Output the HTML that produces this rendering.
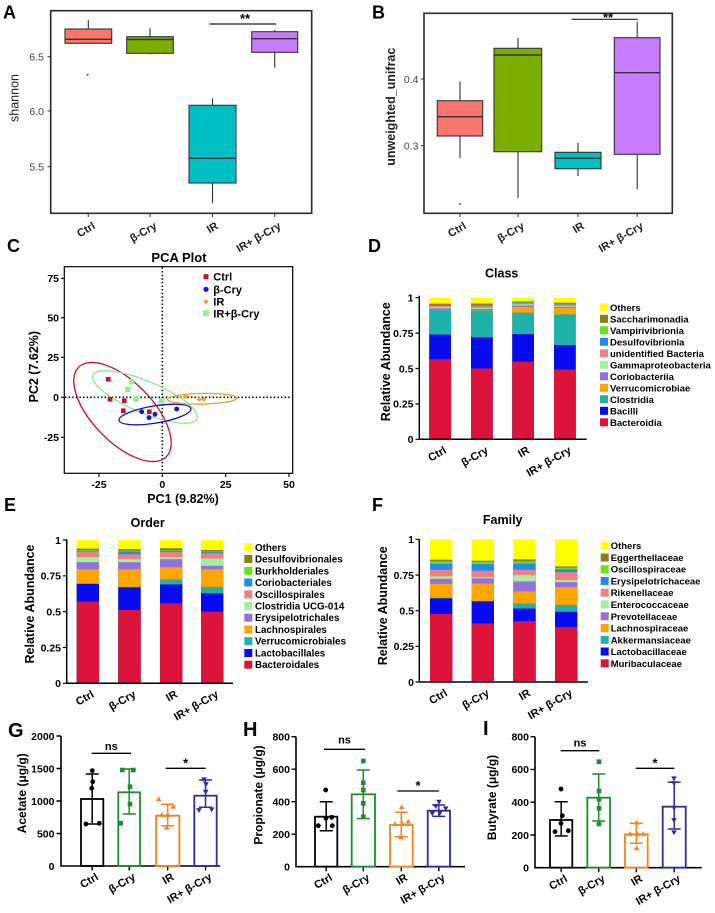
<!DOCTYPE html>
<html><head><meta charset="utf-8"><style>
html,body{margin:0;padding:0;background:#fff;}
svg{display:block;}
text{font-family:"Liberation Sans",Arial,sans-serif;}
.b{font-weight:bold;}
.c0{fill:#FFFF00}.c1{fill:#8B7D1B}.c2{fill:#66E21E}.c3{fill:#1E8CF0}.c4{fill:#F08080}.c5{fill:#A2F0A2}.c6{fill:#9370DB}.c7{fill:#FFA500}.c8{fill:#20B2AA}.c9{fill:#0A0AEE}.c10{fill:#DC143C}
</style></head><body>
<svg width="715" height="913" viewBox="0 0 715 913" xmlns="http://www.w3.org/2000/svg">
<defs>
<circle id="mc" r="2.4"/>
<rect id="ms" x="-2.3" y="-2.3" width="4.6" height="4.6"/>
<path id="mt" d="M0 -3L2.8 1.9H-2.8Z"/>
<path id="mv" d="M0 3L2.8 -1.9H-2.8Z"/>
<path id="md" d="M0 -2.6L2.6 0L0 2.6L-2.6 0Z"/>
<clipPath id="cD"><rect x="420" y="290" width="170" height="149.3"/></clipPath>
<clipPath id="cE"><rect x="67" y="530" width="170" height="153.3"/></clipPath>
<clipPath id="cF"><rect x="420" y="530" width="170" height="152"/></clipPath>
</defs>
<rect width="715" height="913" fill="#fff"/>

<!-- ============ A ============ -->
<text x="3" y="18.5" font-size="18" class="b">A</text>
<rect x="50.7" y="10.7" width="261" height="202.6" fill="none" stroke="#2a2a2a" stroke-width="1.6"/>
<path d="M47.5 56.7H50.7M47.5 111H50.7M47.5 166.7H50.7M88.3 213.3V217M150 213.3V217M212.5 213.3V217M274.7 213.3V217" stroke="#333" stroke-width="1"/>
<g font-size="10.5" fill="#444" text-anchor="end">
<text x="44" y="60.5">6.5</text><text x="44" y="114.8">6.0</text><text x="44" y="170.5">5.5</text>
</g>
<text transform="translate(18.5,98) rotate(-90)" font-size="12.5" text-anchor="middle" fill="#222">shannon</text>
<g stroke="#333" stroke-width="1.1">
<path d="M88.3 20V29"/>
<rect x="65" y="29" width="46.7" height="14.3" fill="#F8766D"/>
<path d="M65 39.3H111.7" stroke-width="1.4"/>
<path d="M150 28.3V36.7M150 53.3V54.5"/>
<rect x="126.7" y="36.7" width="46.6" height="16.6" fill="#7CAE00"/>
<path d="M126.7 39.5H173.3" stroke-width="1.4"/>
<path d="M212.5 98.3V105.3M212.5 183V203.3"/>
<rect x="189" y="105.3" width="47" height="77.7" fill="#00BFC4"/>
<path d="M189 158.3H236" stroke-width="1.4"/>
<path d="M274.7 30V31.7M274.7 52.3V67.7"/>
<rect x="251.7" y="31.7" width="46" height="20.6" fill="#C77CFF"/>
<path d="M251.7 38.7H297.7" stroke-width="1.4"/>
</g>
<circle cx="87.7" cy="74.7" r="0.9" fill="#333"/>
<path d="M209.3 24H276" stroke="#222" stroke-width="1.2"/>
<text x="245" y="23" font-size="13" class="b" text-anchor="middle">**</text>
<g font-size="11" class="b" text-anchor="end" fill="#222">
<text transform="translate(96,228) rotate(-30)">Ctrl</text>
<text transform="translate(157.5,228) rotate(-30)">β-Cry</text>
<text transform="translate(219,228) rotate(-30)">IR</text>
<text transform="translate(281.7,228) rotate(-30)">IR+ β-Cry</text>
</g>

<!-- ============ B ============ -->
<text x="372" y="18.5" font-size="18" class="b">B</text>
<rect x="424" y="13.3" width="248.3" height="200" fill="none" stroke="#2a2a2a" stroke-width="1.6"/>
<path d="M420.8 79H424M420.8 145.7H424M460 213.3V217M518 213.3V217M578 213.3V217M637.2 213.3V217" stroke="#333" stroke-width="1"/>
<g font-size="10.5" fill="#444" text-anchor="end">
<text x="418.5" y="82.8">0.4</text><text x="418.5" y="149.5">0.3</text>
</g>
<text transform="translate(395,106.7) rotate(-90)" font-size="12.5" class="b" text-anchor="middle" fill="#222">unweighted_unifrac</text>
<g stroke="#333" stroke-width="1.1">
<path d="M460 81.3V100.7M460 136V158.3"/>
<rect x="437.3" y="100.7" width="45.4" height="35.3" fill="#F8766D"/>
<path d="M437.3 116.7H482.7" stroke-width="1.4"/>
<path d="M518 37.7V48.3M518 151.7V198.3"/>
<rect x="494" y="48.3" width="47.7" height="103.4" fill="#7CAE00"/>
<path d="M494 55H541.7" stroke-width="1.4"/>
<path d="M578 142.7V152.3M578 168.7V176"/>
<rect x="555" y="152.3" width="46" height="16.4" fill="#00BFC4"/>
<path d="M555 158.3H601" stroke-width="1.4"/>
<path d="M637.2 21.7V37.7M637.2 154.3V189.3"/>
<rect x="614.3" y="37.7" width="45.7" height="116.6" fill="#C77CFF"/>
<path d="M614.3 72.7H660" stroke-width="1.4"/>
</g>
<circle cx="460" cy="204" r="0.9" fill="#333"/>
<path d="M571.7 19.3H637.7" stroke="#222" stroke-width="1.2"/>
<text x="608" y="22" font-size="13" class="b" text-anchor="middle">**</text>
<g font-size="11" class="b" text-anchor="end" fill="#222">
<text transform="translate(467,228) rotate(-30)">Ctrl</text>
<text transform="translate(525,228) rotate(-30)">β-Cry</text>
<text transform="translate(585,228) rotate(-30)">IR</text>
<text transform="translate(644,228) rotate(-30)">IR+ β-Cry</text>
</g>

<!-- ============ C ============ -->
<text x="7" y="252" font-size="18" class="b">C</text>
<text x="179" y="262" font-size="13" class="b" text-anchor="middle">PCA Plot</text>
<rect x="64.3" y="266.7" width="228.4" height="206.6" fill="none" stroke="#000" stroke-width="1.2"/>
<path d="M61 278.3H64.3M61 317.7H64.3M61 357.3H64.3M61 397.3H64.3M61 437.3H64.3M99 473.3V477M162.3 473.3V477M225.7 473.3V477M289 473.3V477" stroke="#000" stroke-width="1.1"/>
<g font-size="10.5" class="b" text-anchor="end">
<text x="59" y="282">75</text><text x="59" y="321.5">50</text><text x="59" y="361">25</text><text x="59" y="401">0</text><text x="59" y="441">-25</text>
</g>
<g font-size="10.5" class="b" text-anchor="middle">
<text x="99" y="488">-25</text><text x="162.3" y="488">0</text><text x="225.7" y="488">25</text><text x="289" y="488">50</text>
</g>
<text transform="translate(38,366.7) rotate(-90)" font-size="12.5" class="b" text-anchor="middle">PC2 (7.62%)</text>
<text x="183" y="503" font-size="12.5" class="b" text-anchor="middle">PC1 (9.82%)</text>
<path d="M162.3 267.5V472.5M65 397.3H292" stroke="#000" stroke-width="1.6" stroke-dasharray="1.4 2.2"/>
<g fill="none" stroke-width="1.3">
<ellipse cx="122.5" cy="412" rx="62.7" ry="30" transform="rotate(45.8 122.5 412)" stroke="#C8102E"/>
<ellipse cx="145" cy="397" rx="56.5" ry="15.9" transform="rotate(22.7 145 397)" stroke="#8FE68F"/>
<ellipse cx="155" cy="414.5" rx="36.4" ry="8.6" transform="rotate(-9.2 155 414.5)" stroke="#1010D0"/>
<ellipse cx="202" cy="398.7" rx="34.7" ry="5.3" transform="rotate(-1 202 398.7)" stroke="#F0A020"/>
</g>
<g fill="#C8102E">
<use href="#ms" x="108.3" y="379.3"/><use href="#ms" x="110" y="399.3"/><use href="#ms" x="124.3" y="400.7"/><use href="#ms" x="123.3" y="410.7"/><use href="#ms" x="149.3" y="411.7"/>
</g>
<g fill="#90EE90">
<rect x="129" y="379" width="5.5" height="5.5"/><rect x="125" y="386.5" width="5.5" height="5.5"/><rect x="133.2" y="396.2" width="5.5" height="5.5"/><rect x="159" y="398" width="5.5" height="5.5"/>
</g>
<g fill="#1010E0">
<use href="#mc" x="141.7" y="411.7"/><use href="#mc" x="149" y="417.7"/><use href="#mc" x="155" y="414.3"/><use href="#mc" x="176.7" y="409"/>
</g>
<g fill="#F0A020">
<use href="#md" x="185" y="396.7"/><use href="#md" x="199.3" y="399.3"/><use href="#md" x="204" y="399.3"/>
</g>
<rect x="203.5" y="274.2" width="5" height="5" fill="#C8102E"/>
<circle cx="206" cy="289.3" r="2.6" fill="#1010E0"/>
<use href="#md" x="206" y="301.7" fill="#F0A020"/>
<rect x="203" y="310.3" width="6" height="6" fill="#90EE90"/>
<g font-size="11" class="b">
<text x="213.3" y="280.7">Ctrl</text><text x="213.3" y="293.3">β-Cry</text><text x="213.3" y="305.7">IR</text><text x="213.3" y="317.3">IR+β-Cry</text>
</g>

<!-- ============ D ============ -->
<text x="368" y="252" font-size="18" class="b">D</text>
<text x="501.7" y="277.5" font-size="12.5" class="b" text-anchor="middle">Class</text>
<g clip-path="url(#cD)">
<rect class="c0" x="429.3" y="297.7" width="21.7" height="150"/><rect class="c1" x="429.3" y="303.6" width="21.7" height="150"/><rect class="c2" x="429.3" y="305.1" width="21.7" height="150"/><rect class="c3" x="429.3" y="305.3" width="21.7" height="150"/><rect class="c4" x="429.3" y="305.9" width="21.7" height="150"/><rect class="c5" x="429.3" y="307" width="21.7" height="150"/><rect class="c6" x="429.3" y="308.2" width="21.7" height="150"/><rect class="c7" x="429.3" y="309.3" width="21.7" height="150"/><rect class="c8" x="429.3" y="309.7" width="21.7" height="150"/><rect class="c9" x="429.3" y="334.5" width="21.7" height="150"/><rect class="c10" x="429.3" y="359.3" width="21.7" height="150"/>
<rect class="c0" x="471" y="297.7" width="21.7" height="150"/><rect class="c1" x="471" y="303.5" width="21.7" height="150"/><rect class="c2" x="471" y="304.9" width="21.7" height="150"/><rect class="c3" x="471" y="305.2" width="21.7" height="150"/><rect class="c4" x="471" y="306.3" width="21.7" height="150"/><rect class="c5" x="471" y="307.8" width="21.7" height="150"/><rect class="c6" x="471" y="308.9" width="21.7" height="150"/><rect class="c7" x="471" y="310" width="21.7" height="150"/><rect class="c8" x="471" y="310.4" width="21.7" height="150"/><rect class="c9" x="471" y="337.3" width="21.7" height="150"/><rect class="c10" x="471" y="368.5" width="21.7" height="150"/>
<rect class="c0" x="512.3" y="297.7" width="21.7" height="150"/><rect class="c1" x="512.3" y="301.5" width="21.7" height="150"/><rect class="c2" x="512.3" y="302.1" width="21.7" height="150"/><rect class="c3" x="512.3" y="302.4" width="21.7" height="150"/><rect class="c4" x="512.3" y="303.2" width="21.7" height="150"/><rect class="c5" x="512.3" y="304.4" width="21.7" height="150"/><rect class="c6" x="512.3" y="305.5" width="21.7" height="150"/><rect class="c7" x="512.3" y="306.9" width="21.7" height="150"/><rect class="c8" x="512.3" y="312.6" width="21.7" height="150"/><rect class="c9" x="512.3" y="334.1" width="21.7" height="150"/><rect class="c10" x="512.3" y="361.7" width="21.7" height="150"/>
<rect class="c0" x="554" y="297.7" width="21.7" height="150"/><rect class="c1" x="554" y="302.7" width="21.7" height="150"/><rect class="c2" x="554" y="303.4" width="21.7" height="150"/><rect class="c3" x="554" y="303.6" width="21.7" height="150"/><rect class="c4" x="554" y="304.5" width="21.7" height="150"/><rect class="c5" x="554" y="305.9" width="21.7" height="150"/><rect class="c6" x="554" y="306.8" width="21.7" height="150"/><rect class="c7" x="554" y="307.9" width="21.7" height="150"/><rect class="c8" x="554" y="314.3" width="21.7" height="150"/><rect class="c9" x="554" y="345.1" width="21.7" height="150"/><rect class="c10" x="554" y="369.5" width="21.7" height="150"/>
</g>
<path d="M419.3 295.7V439.3H586.7" fill="none" stroke="#000" stroke-width="1.5"/>
<path d="M415.5 297.7H419.3M415.5 333.1H419.3M415.5 368.5H419.3M415.5 403.9H419.3M415.5 439.3H419.3" stroke="#000" stroke-width="1.2"/>
<g font-size="10.5" class="b" text-anchor="end">
<text x="413.5" y="301.5">1</text><text x="413.5" y="336.9">0.75</text><text x="413.5" y="372.3">0.5</text><text x="413.5" y="407.7">0.25</text><text x="413.5" y="443.1">0</text>
</g>
<text transform="translate(390,361.7) rotate(-90)" font-size="12.5" class="b" text-anchor="middle">Relative Abundance</text>
<g font-size="11" class="b" text-anchor="end">
<text transform="translate(447.2,452.3) rotate(-30)">Ctrl</text>
<text transform="translate(488.9,452.3) rotate(-30)">β-Cry</text>
<text transform="translate(530.2,452.3) rotate(-30)">IR</text>
<text transform="translate(571.9,452.3) rotate(-30)">IR+ β-Cry</text>
</g>
<g>
<rect class="c0" x="600" y="303.3" width="8" height="8"/><rect class="c1" x="600" y="314.8" width="8" height="8"/><rect class="c2" x="600" y="326.3" width="8" height="8"/><rect class="c3" x="600" y="337.8" width="8" height="8"/><rect class="c4" x="600" y="349.3" width="8" height="8"/><rect class="c5" x="600" y="360.8" width="8" height="8"/><rect class="c6" x="600" y="372.3" width="8" height="8"/><rect class="c7" x="600" y="383.8" width="8" height="8"/><rect class="c8" x="600" y="395.3" width="8" height="8"/><rect class="c9" x="600" y="406.8" width="8" height="8"/><rect class="c10" x="600" y="418.3" width="8" height="8"/>
</g>
<g font-size="9.5" class="b">
<text x="610" y="310.8">Others</text><text x="610" y="322.3">Saccharimonadia</text><text x="610" y="333.8">Vampirivibrionia</text><text x="610" y="345.3">Desulfovibrionia</text><text x="610" y="356.8">unidentified Bacteria</text><text x="610" y="368.3">Gammaproteobacteria</text><text x="610" y="379.8">Coriobacteriia</text><text x="610" y="391.3">Verrucomicrobiae</text><text x="610" y="402.8">Clostridia</text><text x="610" y="414.3">Bacilli</text><text x="610" y="425.8">Bacteroidia</text>
</g>

<!-- ============ E ============ -->
<text x="4" y="511" font-size="18" class="b">E</text>
<text x="147.7" y="527" font-size="12.5" class="b" text-anchor="middle">Order</text>
<g clip-path="url(#cE)">
<rect class="c0" x="76.7" y="540" width="22.3" height="150"/><rect class="c1" x="76.7" y="548.6" width="22.3" height="150"/><rect class="c2" x="76.7" y="550" width="22.3" height="150"/><rect class="c3" x="76.7" y="550.7" width="22.3" height="150"/><rect class="c4" x="76.7" y="551.5" width="22.3" height="150"/><rect class="c5" x="76.7" y="557.2" width="22.3" height="150"/><rect class="c6" x="76.7" y="562.2" width="22.3" height="150"/><rect class="c7" x="76.7" y="569.2" width="22.3" height="150"/><rect class="c8" x="76.7" y="583.4" width="22.3" height="150"/><rect class="c9" x="76.7" y="584" width="22.3" height="150"/><rect class="c10" x="76.7" y="601.6" width="22.3" height="150"/>
<rect class="c0" x="118.3" y="540" width="22.3" height="150"/><rect class="c1" x="118.3" y="549" width="22.3" height="150"/><rect class="c2" x="118.3" y="550.7" width="22.3" height="150"/><rect class="c3" x="118.3" y="551.5" width="22.3" height="150"/><rect class="c4" x="118.3" y="554.3" width="22.3" height="150"/><rect class="c5" x="118.3" y="559.2" width="22.3" height="150"/><rect class="c6" x="118.3" y="562.2" width="22.3" height="150"/><rect class="c7" x="118.3" y="569.2" width="22.3" height="150"/><rect class="c8" x="118.3" y="586.9" width="22.3" height="150"/><rect class="c9" x="118.3" y="587.3" width="22.3" height="150"/><rect class="c10" x="118.3" y="609.9" width="22.3" height="150"/>
<rect class="c0" x="160" y="540" width="22.3" height="150"/><rect class="c1" x="160" y="548.2" width="22.3" height="150"/><rect class="c2" x="160" y="550" width="22.3" height="150"/><rect class="c3" x="160" y="550.7" width="22.3" height="150"/><rect class="c4" x="160" y="551.8" width="22.3" height="150"/><rect class="c5" x="160" y="557.2" width="22.3" height="150"/><rect class="c6" x="160" y="559.2" width="22.3" height="150"/><rect class="c7" x="160" y="567.2" width="22.3" height="150"/><rect class="c8" x="160" y="579.4" width="22.3" height="150"/><rect class="c9" x="160" y="584.4" width="22.3" height="150"/><rect class="c10" x="160" y="603.3" width="22.3" height="150"/>
<rect class="c0" x="201" y="540" width="22.3" height="150"/><rect class="c1" x="201" y="550" width="22.3" height="150"/><rect class="c2" x="201" y="551.5" width="22.3" height="150"/><rect class="c3" x="201" y="552.2" width="22.3" height="150"/><rect class="c4" x="201" y="553.3" width="22.3" height="150"/><rect class="c5" x="201" y="558.6" width="22.3" height="150"/><rect class="c6" x="201" y="565.8" width="22.3" height="150"/><rect class="c7" x="201" y="569.2" width="22.3" height="150"/><rect class="c8" x="201" y="586.9" width="22.3" height="150"/><rect class="c9" x="201" y="593.3" width="22.3" height="150"/><rect class="c10" x="201" y="611.7" width="22.3" height="150"/>
</g>
<path d="M66.7 539.3V683.3H233" fill="none" stroke="#000" stroke-width="1.5"/>
<path d="M62.9 540H66.7M62.9 575.8H66.7M62.9 611.7H66.7M62.9 647.5H66.7M62.9 683.3H66.7" stroke="#000" stroke-width="1.2"/>
<g font-size="10.5" class="b" text-anchor="end">
<text x="61" y="543.8">1</text><text x="61" y="579.6">0.75</text><text x="61" y="615.5">0.5</text><text x="61" y="651.3">0.25</text><text x="61" y="687.1">0</text>
</g>
<text transform="translate(34,604) rotate(-90)" font-size="12.5" class="b" text-anchor="middle">Relative Abundance</text>
<g font-size="11" class="b" text-anchor="end">
<text transform="translate(94.8,696.3) rotate(-30)">Ctrl</text>
<text transform="translate(136.5,696.3) rotate(-30)">β-Cry</text>
<text transform="translate(178.2,696.3) rotate(-30)">IR</text>
<text transform="translate(219.2,696.3) rotate(-30)">IR+ β-Cry</text>
</g>
<g>
<rect class="c0" x="244.3" y="543.3" width="8" height="8"/><rect class="c1" x="244.3" y="555" width="8" height="8"/><rect class="c2" x="244.3" y="566.8" width="8" height="8"/><rect class="c3" x="244.3" y="578.5" width="8" height="8"/><rect class="c4" x="244.3" y="590.3" width="8" height="8"/><rect class="c5" x="244.3" y="602" width="8" height="8"/><rect class="c6" x="244.3" y="613.7" width="8" height="8"/><rect class="c7" x="244.3" y="625.5" width="8" height="8"/><rect class="c8" x="244.3" y="637.2" width="8" height="8"/><rect class="c9" x="244.3" y="649" width="8" height="8"/><rect class="c10" x="244.3" y="660.7" width="8" height="8"/>
</g>
<g font-size="9.8" class="b">
<text x="255" y="550.8">Others</text><text x="255" y="562.5">Desulfovibrionales</text><text x="255" y="574.3">Burkholderiales</text><text x="255" y="586">Coriobacteriales</text><text x="255" y="597.8">Oscillospirales</text><text x="255" y="609.5">Clostridia UCG-014</text><text x="255" y="621.2">Erysipelotrichales</text><text x="255" y="633">Lachnospirales</text><text x="255" y="644.7">Verrucomicrobiales</text><text x="255" y="656.5">Lactobacillales</text><text x="255" y="668.2">Bacteroidales</text>
</g>

<!-- ============ F ============ -->
<text x="372" y="511" font-size="18" class="b">F</text>
<text x="502.7" y="524" font-size="12.5" class="b" text-anchor="middle">Family</text>
<g clip-path="url(#cF)">
<rect class="c0" x="430" y="539.3" width="22.3" height="150"/><rect class="c1" x="430" y="559.7" width="22.3" height="150"/><rect class="c2" x="430" y="561.4" width="22.3" height="150"/><rect class="c3" x="430" y="563.8" width="22.3" height="150"/><rect class="c4" x="430" y="569.8" width="22.3" height="150"/><rect class="c5" x="430" y="576.4" width="22.3" height="150"/><rect class="c6" x="430" y="578.8" width="22.3" height="150"/><rect class="c7" x="430" y="583.8" width="22.3" height="150"/><rect class="c8" x="430" y="597.8" width="22.3" height="150"/><rect class="c9" x="430" y="598.4" width="22.3" height="150"/><rect class="c10" x="430" y="613.9" width="22.3" height="150"/>
<rect class="c0" x="471.7" y="539.3" width="22.3" height="150"/><rect class="c1" x="471.7" y="560.7" width="22.3" height="150"/><rect class="c2" x="471.7" y="562.1" width="22.3" height="150"/><rect class="c3" x="471.7" y="564.1" width="22.3" height="150"/><rect class="c4" x="471.7" y="570.7" width="22.3" height="150"/><rect class="c5" x="471.7" y="577.1" width="22.3" height="150"/><rect class="c6" x="471.7" y="578.4" width="22.3" height="150"/><rect class="c7" x="471.7" y="583.5" width="22.3" height="150"/><rect class="c8" x="471.7" y="600.9" width="22.3" height="150"/><rect class="c9" x="471.7" y="601.4" width="22.3" height="150"/><rect class="c10" x="471.7" y="623.5" width="22.3" height="150"/>
<rect class="c0" x="513.3" y="539.3" width="22.3" height="150"/><rect class="c1" x="513.3" y="559.3" width="22.3" height="150"/><rect class="c2" x="513.3" y="561.4" width="22.3" height="150"/><rect class="c3" x="513.3" y="563.6" width="22.3" height="150"/><rect class="c4" x="513.3" y="569.8" width="22.3" height="150"/><rect class="c5" x="513.3" y="575" width="22.3" height="150"/><rect class="c6" x="513.3" y="581.4" width="22.3" height="150"/><rect class="c7" x="513.3" y="591.4" width="22.3" height="150"/><rect class="c8" x="513.3" y="603.5" width="22.3" height="150"/><rect class="c9" x="513.3" y="608.5" width="22.3" height="150"/><rect class="c10" x="513.3" y="621.1" width="22.3" height="150"/>
<rect class="c0" x="555" y="539.3" width="22.3" height="150"/><rect class="c1" x="555" y="566.4" width="22.3" height="150"/><rect class="c2" x="555" y="567.8" width="22.3" height="150"/><rect class="c3" x="555" y="569.3" width="22.3" height="150"/><rect class="c4" x="555" y="572.1" width="22.3" height="150"/><rect class="c5" x="555" y="580.1" width="22.3" height="150"/><rect class="c6" x="555" y="582.1" width="22.3" height="150"/><rect class="c7" x="555" y="587.1" width="22.3" height="150"/><rect class="c8" x="555" y="604.9" width="22.3" height="150"/><rect class="c9" x="555" y="611.8" width="22.3" height="150"/><rect class="c10" x="555" y="627.1" width="22.3" height="150"/>
</g>
<path d="M419.3 539.3V682H588" fill="none" stroke="#000" stroke-width="1.5"/>
<path d="M415.5 539.3H419.3M415.5 575H419.3M415.5 610.7H419.3M415.5 646.3H419.3M415.5 682H419.3" stroke="#000" stroke-width="1.2"/>
<g font-size="10.5" class="b" text-anchor="end">
<text x="414" y="543.1">1</text><text x="414" y="578.8">0.75</text><text x="414" y="614.5">0.5</text><text x="414" y="650.1">0.25</text><text x="414" y="685.8">0</text>
</g>
<text transform="translate(387,605.8) rotate(-90)" font-size="12.5" class="b" text-anchor="middle">Relative Abundance</text>
<g font-size="11" class="b" text-anchor="end">
<text transform="translate(448.2,695) rotate(-30)">Ctrl</text>
<text transform="translate(489.9,695) rotate(-30)">β-Cry</text>
<text transform="translate(531.2,695) rotate(-30)">IR</text>
<text transform="translate(573.2,695) rotate(-30)">IR+ β-Cry</text>
</g>
<g>
<rect class="c0" x="600.7" y="541.7" width="8" height="8"/><rect class="c1" x="600.7" y="553.5" width="8" height="8"/><rect class="c2" x="600.7" y="565.2" width="8" height="8"/><rect class="c3" x="600.7" y="577" width="8" height="8"/><rect class="c4" x="600.7" y="588.7" width="8" height="8"/><rect class="c5" x="600.7" y="600.5" width="8" height="8"/><rect class="c6" x="600.7" y="612.3" width="8" height="8"/><rect class="c7" x="600.7" y="624" width="8" height="8"/><rect class="c8" x="600.7" y="635.8" width="8" height="8"/><rect class="c9" x="600.7" y="647.5" width="8" height="8"/><rect class="c10" x="600.7" y="659.3" width="8" height="8"/>
</g>
<g font-size="9.5" class="b">
<text x="610.7" y="549.2">Others</text><text x="610.7" y="561">Eggerthellaceae</text><text x="610.7" y="572.7">Oscillospiraceae</text><text x="610.7" y="584.5">Erysipelotrichaceae</text><text x="610.7" y="596.2">Rikenellaceae</text><text x="610.7" y="608">Enterococcaceae</text><text x="610.7" y="619.8">Prevotellaceae</text><text x="610.7" y="631.5">Lachnospiraceae</text><text x="610.7" y="643.3">Akkermansiaceae</text><text x="610.7" y="655">Lactobacillaceae</text><text x="610.7" y="666.8">Muribaculaceae</text>
</g>

<!-- ============ G ============ -->
<text x="8" y="737" font-size="20" class="b">G</text>
<path d="M61 736V866H220" fill="none" stroke="#000" stroke-width="1.6"/>
<path d="M56.5 736H61M56.5 768.5H61M56.5 801H61M56.5 833.5H61M92.2 866V870.5M129.2 866V870.5M167.7 866V870.5M205.5 866V870.5" stroke="#000" stroke-width="1.4"/>
<g font-size="10.5" class="b" text-anchor="end">
<text x="54.5" y="739.8">2000</text><text x="54.5" y="772.3">1500</text><text x="54.5" y="804.8">1000</text><text x="54.5" y="837.3">500</text><text x="54.5" y="869.8">0</text>
</g>
<text transform="translate(26,793.3) rotate(-90)" font-size="12" class="b" text-anchor="middle">Acetate (μg/g)</text>
<g fill="none" stroke-width="1.8">
<rect x="81" y="799" width="22.3" height="67" stroke="#000"/>
<rect x="118.3" y="792.3" width="21.7" height="73.7" stroke="#1E8C2E"/>
<rect x="156" y="815.7" width="23.3" height="50.3" stroke="#F5821F"/>
<rect x="194.3" y="795.7" width="22.4" height="70.3" stroke="#2C2CA0"/>
</g>
<g fill="none" stroke-width="1.5">
<path d="M92.2 774V824M85.7 774H98.7M85.7 824H98.7" stroke="#000"/>
<path d="M129.2 769V814M122.7 769H135.7M122.7 814H135.7" stroke="#1E8C2E"/>
<path d="M167.7 804.3V825.7M161.2 804.3H174.2M161.2 825.7H174.2" stroke="#F5821F"/>
<path d="M205.5 780V807.3M199 780H212M199 807.3H212" stroke="#2C2CA0"/>
</g>
<g fill="#000"><use href="#mc" x="92.3" y="770.7"/><use href="#mc" x="92.7" y="781.7"/><use href="#mc" x="91.7" y="788.3"/><use href="#mc" x="86" y="824"/><use href="#mc" x="99.3" y="823.3"/></g>
<g fill="#1E8C2E"><use href="#ms" x="122.3" y="770"/><use href="#ms" x="133.3" y="770"/><use href="#ms" x="130" y="786.7"/><use href="#ms" x="130" y="804"/><use href="#ms" x="120.7" y="823.3"/></g>
<g fill="#F5821F"><use href="#mt" x="158.7" y="799.3"/><use href="#mt" x="161.7" y="815"/><use href="#mt" x="167.7" y="815"/><use href="#mt" x="173.3" y="806.7"/><use href="#mt" x="166.7" y="827.7"/></g>
<g fill="#2C2CA0"><use href="#mv" x="204" y="779.3"/><use href="#mv" x="205.7" y="791.7"/><use href="#mv" x="199" y="810"/><use href="#mv" x="211.7" y="809.3"/><use href="#mv" x="206" y="784"/></g>
<path d="M91.7 753.3H131M165.7 768.3H205.7" stroke="#000" stroke-width="1.3"/>
<text x="111.3" y="750" font-size="11" class="b" text-anchor="middle">ns</text>
<text x="185.7" y="767.5" font-size="13" class="b" text-anchor="middle">*</text>
<g font-size="11" class="b" text-anchor="end">
<text transform="translate(99.2,879) rotate(-30)">Ctrl</text>
<text transform="translate(136.2,879) rotate(-30)">β-Cry</text>
<text transform="translate(174.7,879) rotate(-30)">IR</text>
<text transform="translate(212.5,879) rotate(-30)">IR+ β-Cry</text>
</g>

<!-- ============ H ============ -->
<text x="243" y="736" font-size="20" class="b">H</text>
<path d="M296 736.7V866.7H465" fill="none" stroke="#000" stroke-width="1.6"/>
<path d="M291.5 736.7H296M291.5 769.2H296M291.5 801.7H296M291.5 834.2H296M326.2 866.7V871.2M363.3 866.7V871.2M401.3 866.7V871.2M438.8 866.7V871.2" stroke="#000" stroke-width="1.4"/>
<g font-size="10.5" class="b" text-anchor="end">
<text x="290" y="740.5">800</text><text x="290" y="773">600</text><text x="290" y="805.5">400</text><text x="290" y="838">200</text><text x="290" y="870.5">0</text>
</g>
<text transform="translate(262.5,795) rotate(-90)" font-size="12" class="b" text-anchor="middle">Propionate (μg/g)</text>
<g fill="none" stroke-width="1.8">
<rect x="315" y="816.7" width="22.3" height="50" stroke="#000"/>
<rect x="351.7" y="794.3" width="23.3" height="72.4" stroke="#1E8C2E"/>
<rect x="390" y="825" width="22.7" height="41.7" stroke="#F5821F"/>
<rect x="427.7" y="810.7" width="22.3" height="56" stroke="#2C2CA0"/>
</g>
<g fill="none" stroke-width="1.5">
<path d="M326.2 801.7V830.7M319.7 801.7H332.7M319.7 830.7H332.7" stroke="#000"/>
<path d="M363.3 770V818.6M356.8 770H369.8M356.8 818.6H369.8" stroke="#1E8C2E"/>
<path d="M401.3 812.3V836.7M394.8 812.3H407.8M394.8 836.7H407.8" stroke="#F5821F"/>
<path d="M438.8 805V816.4M432.3 805H445.3M432.3 816.4H445.3" stroke="#2C2CA0"/>
</g>
<g fill="#000"><use href="#mc" x="325.7" y="790"/><use href="#mc" x="318.3" y="825.7"/><use href="#mc" x="326" y="818.3"/><use href="#mc" x="331.7" y="817.3"/><use href="#mc" x="332.3" y="825.7"/></g>
<g fill="#1E8C2E"><use href="#ms" x="363.3" y="761"/><use href="#ms" x="363.3" y="782.7"/><use href="#ms" x="363.3" y="790"/><use href="#ms" x="363.3" y="803.3"/><use href="#ms" x="363.3" y="816.7"/></g>
<g fill="#F5821F"><use href="#mt" x="401.7" y="807.3"/><use href="#mt" x="408.3" y="821.7"/><use href="#mt" x="402.3" y="824"/><use href="#mt" x="395" y="824"/><use href="#mt" x="401" y="837.3"/></g>
<g fill="#2C2CA0"><use href="#mv" x="439" y="801.7"/><use href="#mv" x="435.7" y="806"/><use href="#mv" x="445.7" y="808.3"/><use href="#mv" x="432.3" y="813.3"/><use href="#mv" x="440" y="812.7"/></g>
<path d="M324 749.3H365M397.3 791H439" stroke="#000" stroke-width="1.3"/>
<text x="344.5" y="743.5" font-size="11" class="b" text-anchor="middle">ns</text>
<text x="418" y="790" font-size="13" class="b" text-anchor="middle">*</text>
<g font-size="11" class="b" text-anchor="end">
<text transform="translate(333.2,879.7) rotate(-30)">Ctrl</text>
<text transform="translate(370.3,879.7) rotate(-30)">β-Cry</text>
<text transform="translate(408.3,879.7) rotate(-30)">IR</text>
<text transform="translate(445.8,879.7) rotate(-30)">IR+ β-Cry</text>
</g>

<!-- ============ I ============ -->
<text x="483" y="735" font-size="20" class="b">I</text>
<path d="M535 736.7V867.7H701.7" fill="none" stroke="#000" stroke-width="1.6"/>
<path d="M530.5 736.7H535M530.5 769.4H535M530.5 802.2H535M530.5 835H535M561.2 867.7V872.2M598.7 867.7V872.2M636.3 867.7V872.2M674.2 867.7V872.2" stroke="#000" stroke-width="1.4"/>
<g font-size="10.5" class="b" text-anchor="end">
<text x="529" y="740.5">800</text><text x="529" y="773.2">600</text><text x="529" y="806">400</text><text x="529" y="838.8">200</text><text x="529" y="871.5">0</text>
</g>
<text transform="translate(496,797.5) rotate(-90)" font-size="12" class="b" text-anchor="middle">Butyrate (μg/g)</text>
<g fill="none" stroke-width="1.8">
<rect x="550" y="820" width="22.3" height="47.7" stroke="#000"/>
<rect x="587.3" y="797.7" width="22.7" height="70" stroke="#1E8C2E"/>
<rect x="625" y="834.3" width="22.7" height="33.4" stroke="#F5821F"/>
<rect x="662.7" y="806.7" width="23" height="61" stroke="#2C2CA0"/>
</g>
<g fill="none" stroke-width="1.5">
<path d="M561.2 801.7V836M554.7 801.7H567.7M554.7 836H567.7" stroke="#000"/>
<path d="M598.7 774V821M592.2 774H605.2M592.2 821H605.2" stroke="#1E8C2E"/>
<path d="M636.3 823.3V843.3M629.8 823.3H642.8M629.8 843.3H642.8" stroke="#F5821F"/>
<path d="M674.2 782.3V829M667.7 782.3H680.7M667.7 829H680.7" stroke="#2C2CA0"/>
</g>
<g fill="#000"><use href="#mc" x="561" y="789"/><use href="#mc" x="562.3" y="815.7"/><use href="#mc" x="561" y="823.3"/><use href="#mc" x="555" y="831.7"/><use href="#mc" x="568.3" y="830.7"/></g>
<g fill="#1E8C2E"><use href="#ms" x="599" y="761.7"/><use href="#ms" x="599" y="791"/><use href="#ms" x="599" y="799.3"/><use href="#ms" x="599" y="808.3"/><use href="#ms" x="599" y="824"/></g>
<g fill="#F5821F"><use href="#mt" x="636.7" y="822.7"/><use href="#mt" x="630" y="834"/><use href="#mt" x="637.3" y="834"/><use href="#mt" x="643.3" y="834"/><use href="#mt" x="636.7" y="848.3"/></g>
<g fill="#2C2CA0"><use href="#mv" x="674" y="778.3"/><use href="#mv" x="674" y="783"/><use href="#mv" x="674" y="807.7"/><use href="#mv" x="674" y="820"/><use href="#mv" x="674" y="832.3"/></g>
<path d="M560.7 750.7H599.3M635.7 768.3H674.3" stroke="#000" stroke-width="1.3"/>
<text x="580" y="746.7" font-size="11" class="b" text-anchor="middle">ns</text>
<text x="655" y="767.5" font-size="13" class="b" text-anchor="middle">*</text>
<g font-size="11" class="b" text-anchor="end">
<text transform="translate(568.2,880.7) rotate(-30)">Ctrl</text>
<text transform="translate(605.7,880.7) rotate(-30)">β-Cry</text>
<text transform="translate(643.3,880.7) rotate(-30)">IR</text>
<text transform="translate(681.2,880.7) rotate(-30)">IR+ β-Cry</text>
</g>
</svg>
</body></html>
